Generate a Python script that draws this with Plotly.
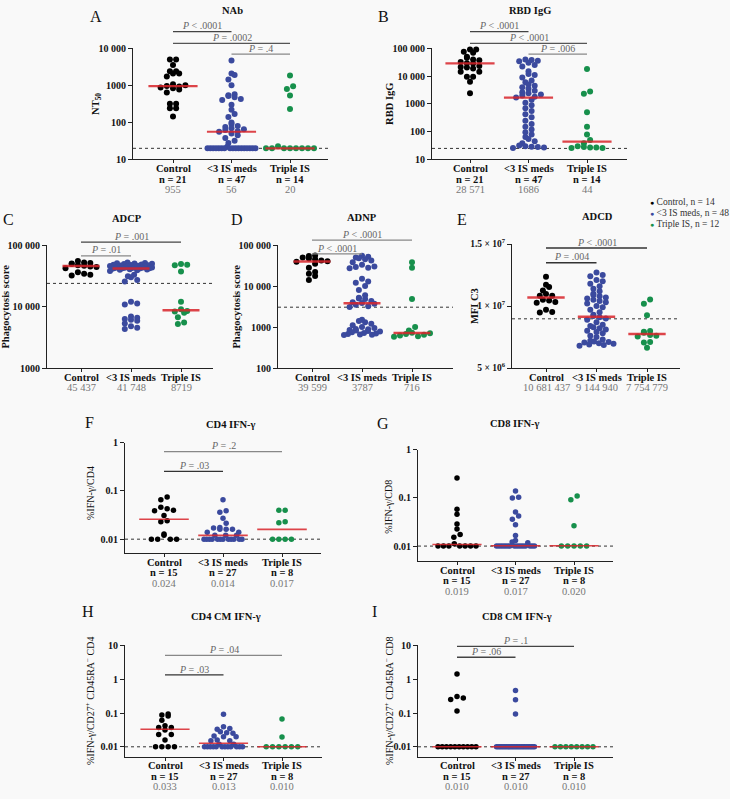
import math
import plotly.graph_objects as go

FIG_W, FIG_H = 730, 799
FONT = "Liberation Serif"
COLORS = ["#000000", "#3b4a9e", "#17904c"]
RED = "#d9252b"

categories = ["Control", "&lt;3 IS meds", "Triple IS"]

# ---------------- data ----------------
# A  NAb (NT50)
nab_control = [5000, 5000, 3540, 2400, 2400, 2100, 2100, 1730, 1080, 1000, 955, 930, 880, 830, 770,
               640, 320, 320, 240, 240, 145]
nab_lt3 = [4700, 2100, 1900, 1450, 1000, 580, 540, 520, 480, 430, 400, 300, 220, 170, 140, 100, 90, 80,
           75, 70, 65, 62, 58, 56, 50, 45, 38, 32, 28, 22] + [20] * 17
nab_triple = [1840, 940, 800, 530, 230, 22.6] + [20] * 8
nab_median = [955, 56, 20]
nab_median_text = ["955", "56", "20"]
nab_n = [21, 47, 14]

# B  RBD IgG
rbd_control = [91000, 91000, 75000, 69000, 50000, 46000, 40000, 37000, 32000, 28900, 28571, 23000, 21400,
               20300, 18700, 14300, 14300, 9500, 9500, 6300, 2430]
rbd_lt3 = [40000, 38000, 36000, 34000, 30000, 25000, 22000, 15000, 12000, 11000, 9000, 7000, 6000, 5000,
           4500, 4000, 3500, 3000, 2600, 2400, 2200, 2000, 1800, 1686, 1400, 1100, 900, 700, 550, 420, 330,
           250, 190, 150, 120, 95, 80, 65, 55, 45, 38, 32, 30, 29, 28, 27, 26]
rbd_triple = [18000, 2800, 2300, 500, 150, 80, 50, 38, 30, 28, 27, 27, 26, 26]
rbd_median = [28571, 1686, 44]
rbd_median_text = ["28 571", "1686", "44"]
rbd_n = [21, 47, 14]

# C  ADCP
adcp_control = [55000, 52000, 51000, 50000, 49000, 47000, 46000, 44900, 44000, 42000, 36000, 34000, 33000, 32000]
adcp_lt3 = [52000, 51000, 50500, 50000, 49500, 49000, 48500, 48000, 47500, 47000, 46500, 46000, 45500, 45000,
            44500, 44000, 43500, 43000, 42800, 42600, 42400, 42200, 42000, 41800, 41700, 41000, 40500, 40000,
            39500, 39000, 38000, 33000, 31000, 30000, 27000, 25500, 12000, 11200, 10800, 6900, 6600, 6300,
            6100, 5900, 5300, 4800, 4500, 4300]
adcp_triple = [49000, 48000, 47000, 37000, 12000, 9000, 8438, 8300, 7900, 6700, 5500, 5200]
adcp_median = [45437, 41748, 8719]
adcp_median_text = ["45 437", "41 748", "8719"]

# D  ADNP
adnp_control = [56000, 54000, 50000, 47000, 45000, 42000, 40000, 39198, 35000, 28000, 22000, 20000, 17500, 14000]
adnp_lt3 = [55000, 52000, 50000, 48000, 45000, 42000, 38000, 33000, 30000, 29000, 28000, 27000, 15000, 13000,
            12000, 10000, 8000, 6000, 5200, 5000, 4800, 4300, 4000, 3850, 3724, 3500, 3200, 3100, 1500, 1400,
            1300, 1200, 1100, 1000, 950, 900, 880, 850, 820, 800, 780, 750, 720, 700, 680, 660, 650, 640]
adnp_triple = [38000, 28000, 4800, 1000, 820, 730, 702, 680, 650, 620, 600, 580]
adnp_median = [39599, 3787, 716]
adnp_median_text = ["39 599", "3787", "716"]

# E  ADCD (MFI C3)
adcd_control = [12.37e6, 11.71e6, 11.53e6, 11.26e6, 10.97e6, 10.84e6, 10.84e6, 10.5e6, 10.45e6, 10.32e6,
                10.26e6, 9.71e6, 9.53e6, 9.47e6]
adcd_lt3 = [12.7e6, 12.5e6, 12.4e6, 12.1e6, 12.0e6, 11.8e6, 11.6e6, 11.4e6, 11.2e6, 11.0e6, 10.9e6, 10.8e6,
            10.7e6, 10.6e6, 10.5e6, 10.4e6, 10.3e6, 10.2e6, 10.0e6, 9.9e6, 9.7e6, 9.5e6, 9.3e6, 9.2e6,
            9.09e6, 9.0e6, 8.9e6, 8.7e6, 8.5e6, 8.4e6, 8.3e6, 8.2e6, 8.1e6, 8.0e6, 7.9e6, 7.8e6, 7.6e6,
            7.5e6, 7.3e6, 7.2e6, 7.15e6, 7.1e6, 7.05e6, 7.0e6, 6.95e6, 6.9e6, 6.85e6, 6.8e6]
adcd_triple = [10.53e6, 10.18e6, 9.26e6, 7.98e6, 7.92e6, 7.85e6, 7.66e6, 7.6e6, 7.55e6, 7.1e6, 7.05e6, 6.63e6]
adcd_median = [10681437, 9144940, 7754779]
adcd_median_text = ["10 681 437", "9 144 940", "7 754 779"]

# F  CD4 IFN-g
cd4_control = [0.075, 0.066, 0.046, 0.043, 0.040, 0.039, 0.031, 0.024, 0.023, 0.0128, 0.012, 0.01, 0.01, 0.01, 0.01]
cd4_lt3 = [0.0655, 0.039, 0.036, 0.0273, 0.0215, 0.0175, 0.017, 0.016, 0.016, 0.016, 0.014, 0.014, 0.012,
           0.012, 0.012] + [0.01] * 12
cd4_triple = [0.040, 0.040, 0.023, 0.022, 0.01, 0.01, 0.01, 0.01]
cd4_median = [0.026, 0.012, 0.016]
cd4_median_text = ["0.024", "0.014", "0.017"]
cd4_n = [15, 27, 8]

# G  CD8 IFN-g
cd8_control = [0.26, 0.058, 0.0457, 0.0286, 0.0226, 0.0173, 0.0153, 0.0112] + [0.01] * 7
cd8_lt3 = [0.139, 0.103, 0.1, 0.051, 0.042, 0.036, 0.0277, 0.0165, 0.0131, 0.0122, 0.0118] + [0.01] * 16
cd8_triple = [0.11, 0.092, 0.0264] + [0.01] * 5
cd8_median = [0.0108, 0.0102, 0.0102]
cd8_median_text = ["0.019", "0.017", "0.020"]
cd8_n = [15, 27, 8]

# H  CD4 CM IFN-g
cm4_control = [0.094, 0.088, 0.082, 0.0614, 0.042, 0.0375, 0.0375, 0.0313, 0.023, 0.023, 0.016] + [0.01] * 4
cm4_lt3 = [0.092, 0.039, 0.035, 0.033, 0.028, 0.026, 0.025, 0.021, 0.020, 0.020, 0.016, 0.015, 0.015,
           0.012, 0.012] + [0.01] * 12
cm4_triple = [0.066, 0.0196] + [0.01] * 6
cm4_median = [0.033, 0.0128, 0.01]
cm4_median_text = ["0.033", "0.013", "0.010"]
cm4_n = [15, 27, 8]

# I  CD8 CM IFN-g
cm8_control = [1.42, 0.31, 0.28, 0.25, 0.115] + [0.01] * 10
cm8_lt3 = [0.46, 0.247, 0.094] + [0.01] * 24
cm8_triple = [0.01] * 8
cm8_median = [0.01, 0.01, 0.01]
cm8_median_text = ["0.010", "0.010", "0.010"]
cm8_n = [15, 27, 8]

legend_labels = ["Control, n = 14", "&lt;3 IS meds, n = 48", "Triple IS, n = 12"]

# ---------------- panel layout (pixels) ----------------
panels = [
    dict(letter="A", letter_xy=(96, 10), title="NAb", title_xy=(232, 4), ytitle="<b>NT<sub>50</sub></b>",
         ytitle_x=97, data=[nab_control, nab_lt3, nab_triple], med=nab_median, medtxt=nab_median_text,
         n=nab_n, ylog=True, yrange=[1, 4], tickvals=[10, 100, 1000, 10000],
         ticktext=["10", "100", "1000", "10 000"], thr=20,
         box=(133, 328, 42, 155), c0=173, sp=58.5, H=24, ms=6, d=6.2, hw=0.42, lw=2.2,
         brackets=[(0, 1, "<i>P</i> &lt; .0001", 25, "#444"), (0, 2, "<i>P</i> = .0002", 37, "#555"),
                   (1, 2, "<i>P</i> = .4", 48, "#888")]),
    dict(letter="B", letter_xy=(384, 10), title="RBD IgG", title_xy=(530, 4), ytitle="<b>RBD IgG</b>",
         ytitle_x=390, data=[rbd_control, rbd_lt3, rbd_triple], med=rbd_median, medtxt=rbd_median_text,
         n=rbd_n, ylog=True, yrange=[1, 5], tickvals=[10, 100, 1000, 10000, 100000],
         ticktext=["10", "100", "1000", "10 000", "100 000"], thr=25,
         box=(432, 627, 42, 155), c0=470, sp=58.5, H=24, ms=6, d=6.2, hw=0.42, lw=2.2,
         brackets=[(0, 1, "<i>P</i> &lt; .0001", 25, "#444"), (0, 2, "<i>P</i> &lt; .0001", 37, "#555"),
                   (1, 2, "<i>P</i> = .006", 48, "#888")]),
    dict(letter="C", letter_xy=(8, 216), title="ADCP", title_xy=(127, 215), ytitle="<b>Phagocytosis score</b>",
         ytitle_x=6, data=[adcp_control, adcp_lt3, adcp_triple], med=adcp_median, medtxt=adcp_median_text,
         n=None, ylog=True, yrange=[3, 5], tickvals=[1000, 10000, 100000],
         ticktext=["1000", "10 000", "100 000"], thr=23800,
         box=(47, 213, 242, 367), c0=81, sp=50, H=21, ms=6, d=6.2, hw=0.37, lw=2.5,
         brackets=[(0, 2, "<i>P</i> = .001", 239, "#444"), (0, 1, "<i>P</i> = .01", 253, "#888")]),
    dict(letter="D", letter_xy=(237, 216), title="ADNP", title_xy=(362, 214), ytitle="<b>Phagocytosis score</b>",
         ytitle_x=237, data=[adnp_control, adnp_lt3, adnp_triple], med=adnp_median, medtxt=adnp_median_text,
         n=None, ylog=True, yrange=[2, 5], tickvals=[100, 1000, 10000, 100000],
         ticktext=["100", "1000", "10 000", "100 000"], thr=3050,
         box=(278, 453, 242, 367), c0=312, sp=50, H=18, ms=6, d=6.2, hw=0.37, lw=2.5,
         brackets=[(0, 2, "<i>P</i> &lt; .0001", 237, "#888"), (0, 1, "<i>P</i> &lt; .0001", 251, "#888")]),
    dict(letter="E", letter_xy=(462, 216), title="ADCD", title_xy=(597, 213), ytitle="<b>MFI C3</b>",
         ytitle_x=474, data=[adcd_control, adcd_lt3, adcd_triple], med=adcd_median, medtxt=adcd_median_text,
         n=None, ylog=False, yrange=[5e6, 1.5e7], tickvals=[5e6, 1e7, 1.5e7],
         ticktext=["5 × 10<sup>6</sup>", "1 × 10<sup>7</sup>", "1.5 × 10<sup>7</sup>"], thr=8.97e6,
         box=(512, 680, 241, 367), c0=546, sp=50.5, H=17, ms=6, d=6.2, hw=0.37, tick_size=9.5, lw=2.5,
         brackets=[(0, 2, "<i>P</i> &lt; .0001", 245, "#333"), (0, 1, "<i>P</i> = .004", 260, "#333")]),
    dict(letter="F", letter_xy=(89, 422), title="CD4 IFN-γ", title_xy=(231, 424), ytitle="%IFN-γ/CD4",
         ytitle_x=91, ytitle_y=494, data=[cd4_control, cd4_lt3, cd4_triple], med=cd4_median,
         medtxt=cd4_median_text, n=cd4_n, ylog=True, yrange=[-2.286, 0], tickvals=[0.01, 0.1, 1],
         ticktext=["0.01", "0.1", "1"], thr=0.01,
         box=(125, 321, 443, 555), c0=164, sp=59, H=19, ms=5.5, d=6.3, hw=0.42, lw=1.6,
         brackets=[(0, 2, "<i>P</i> = .2", 452, "#888"), (0, 1, "<i>P</i> = .03", 472, "#333")]),
    dict(letter="G", letter_xy=(383, 423), title="CD8 IFN-γ", title_xy=(515, 423), ytitle="%IFN-γ/CD8",
         ytitle_x=389, ytitle_y=508, data=[cd8_control, cd8_lt3, cd8_triple], med=cd8_median,
         medtxt=cd8_median_text, n=cd8_n, ylog=True, yrange=[-2.306, 0], tickvals=[0.01, 0.1, 1],
         ticktext=["0.01", "0.1", "1"], thr=0.01,
         box=(418, 613, 450, 563), c0=457, sp=58.5, H=19, ms=5.5, d=6.3, hw=0.42, lw=1.6,
         brackets=[]),
    dict(letter="H", letter_xy=(88, 614), title="CD4 CM IFN-γ", title_xy=(226, 620),
         ytitle="%IFN-γ/CD27<sup>+</sup> CD45RA<sup>−</sup> CD4",
         ytitle_x=90, data=[cm4_control, cm4_lt3, cm4_triple], med=cm4_median, medtxt=cm4_median_text,
         n=cm4_n, ylog=True, yrange=[-2.29, 1], tickvals=[0.01, 0.1, 1, 10],
         ticktext=["0.01", "0.1", "1", "10"], thr=0.01,
         box=(125, 322, 649, 762), c0=165, sp=58.5, H=19, ms=5.5, d=6.3, hw=0.42, lw=1.6,
         brackets=[(0, 2, "<i>P</i> = .04", 659, "#888"), (0, 1, "<i>P</i> = .03", 679, "#333")]),
    dict(letter="I", letter_xy=(374, 614), title="CD8 CM IFN-γ", title_xy=(517, 620),
         ytitle="%IFN-γ/CD27<sup>+</sup> CD45RA<sup>−</sup> CD8",
         ytitle_x=389, data=[cm8_control, cm8_lt3, cm8_triple], med=cm8_median, medtxt=cm8_median_text,
         n=cm8_n, ylog=True, yrange=[-2.29, 1], tickvals=[0.01, 0.1, 1, 10],
         ticktext=["0.01", "0.1", "1", "10"], thr=0.01,
         box=(418, 613, 649, 762), c0=457, sp=58.5, H=19, ms=5.5, d=6.3, hw=0.42, lw=1.6,
         brackets=[(0, 2, "<i>P</i> = .1", 650, "#444"), (0, 1, "<i>P</i> = .06", 661, "#444")]),
]


def fx(p):
    return p / FIG_W


def fy(p):
    return 1 - p / FIG_H


def swarm_offsets(vals, ylog, yrange, top, bottom, sp, d, H, binh=4.6):
    span = bottom - top

    def to_px(v):
        t = math.log10(v) if ylog else v
        return bottom - (t - yrange[0]) / (yrange[1] - yrange[0]) * span

    ys = [to_px(v) for v in vals]
    order = sorted(range(len(vals)), key=lambda i: -ys[i])
    bins, cur, start = [], [], None
    for i in order:
        if cur and start - ys[i] > binh:
            bins.append(cur)
            cur = []
        if not cur:
            start = ys[i]
        cur.append(i)
    if cur:
        bins.append(cur)
    off = [0.0] * len(vals)
    for b in bins:
        k = len(b)
        if k == 1:
            continue
        s = min(d, 2 * H / (k - 1))
        step = max(1, round(k * 0.618))
        while math.gcd(step, k) != 1:
            step += 1
        for j, i in enumerate(b):
            pos = (j * step) % k
            off[i] = (pos - (k - 1) / 2) * s / sp
    return off


fig = go.Figure()
annotations = []
shapes = []
layout_axes = {}

for k, P in enumerate(panels, start=1):
    xa = "x" if k == 1 else f"x{k}"
    ya = "y" if k == 1 else f"y{k}"
    left, right, top, bottom = P["box"]
    xr = [(left - P["c0"]) / P["sp"], (right - P["c0"]) / P["sp"]]
    suffix = "" if k == 1 else str(k)
    layout_axes["xaxis" + suffix] = dict(
        domain=[fx(left), fx(right)], range=xr, anchor=ya, tickvals=[0, 1, 2], showticklabels=False,
        ticks="outside", ticklen=3, tickcolor="#222", showline=True, linecolor="#222", linewidth=1,
        showgrid=False, zeroline=False, fixedrange=True)
    layout_axes["yaxis" + suffix] = dict(
        domain=[fy(bottom), fy(top)], type="log" if P["ylog"] else "linear", range=P["yrange"], anchor=xa,
        tickvals=P["tickvals"], ticktext=P["ticktext"], ticks="outside", ticklen=4, tickcolor="#222",
        showline=True, linecolor="#222", linewidth=1, showgrid=False, zeroline=False, fixedrange=True,
        tickfont=dict(family=FONT, size=P.get("tick_size", 10), color="#111", weight="bold"))

    # threshold dotted line
    fig.add_trace(go.Scatter(x=xr, y=[P["thr"], P["thr"]], mode="lines", xaxis=xa, yaxis=ya,
                             line=dict(color="#333", width=1, dash="dot"), showlegend=False,
                             hoverinfo="skip", cliponaxis=False))
    # points
    for g, vals in enumerate(P["data"]):
        offs = swarm_offsets(vals, P["ylog"], P["yrange"], top, bottom, P["sp"], P["d"], P["H"])
        fig.add_trace(go.Scatter(x=[g + o for o in offs], y=vals, mode="markers", xaxis=xa, yaxis=ya,
                                 marker=dict(color=COLORS[g], size=P["ms"], line=dict(width=0)),
                                 showlegend=False, cliponaxis=False))
    # median lines
    for g, m in enumerate(P["med"]):
        fig.add_trace(go.Scatter(x=[g - P["hw"], g + P["hw"]], y=[m, m], mode="lines", xaxis=xa, yaxis=ya,
                                 line=dict(color=RED, width=P["lw"]), opacity=0.85, showlegend=False,
                                 hoverinfo="skip", cliponaxis=False))

    # category labels
    for g in range(3):
        annotations.append(dict(x=g, xref=xa, y=fy(bottom + 9.5), yref="paper", showarrow=False,
                                text=f"<b>{categories[g]}</b>", font=dict(family=FONT, size=10.5, color="#111"),
                                xanchor="center", yanchor="middle"))
        if P["n"] is not None:
            annotations.append(dict(x=g, xref=xa, y=fy(bottom + 20.3), yref="paper", showarrow=False,
                                    text=f"<b>n = {P['n'][g]}</b>",
                                    font=dict(family=FONT, size=10.5, color="#111"),
                                    xanchor="center", yanchor="middle"))
            my = bottom + 30.8
        else:
            my = bottom + 20
        annotations.append(dict(x=g, xref=xa, y=fy(my), yref="paper", showarrow=False,
                                text=P["medtxt"][g], font=dict(family=FONT, size=10.5, color="#777"),
                                xanchor="center", yanchor="middle"))

    # brackets
    for (i, j, lab, ypx, col) in P["brackets"]:
        shapes.append(dict(type="line", xref=xa, x0=i, x1=j, yref="paper", y0=fy(ypx), y1=fy(ypx),
                           line=dict(color=col, width=1.3)))
        annotations.append(dict(x=(i + j) / 2, xref=xa, y=fy(ypx - 6), yref="paper", showarrow=False,
                                text=lab, font=dict(family=FONT, size=10, color="#666"),
                                xanchor="center", yanchor="middle"))

    # panel letter & title
    annotations.append(dict(x=fx(P["letter_xy"][0]), y=fy(P["letter_xy"][1]), xref="paper", yref="paper",
                            text=P["letter"], showarrow=False, font=dict(family=FONT, size=16, color="#111"),
                            xanchor="center", yanchor="middle"))
    annotations.append(dict(x=fx(P["title_xy"][0]), y=fy(P["title_xy"][1]), xref="paper", yref="paper",
                            text=f"<b>{P['title']}</b>", showarrow=False,
                            font=dict(family=FONT, size=10.5, color="#111"),
                            xanchor="center", yanchor="middle"))
    # y title
    yt_y = P.get("ytitle_y", (top + bottom) / 2)
    annotations.append(dict(x=fx(P["ytitle_x"]), y=fy(yt_y), xref="paper", yref="paper",
                            text=P["ytitle"], showarrow=False, textangle=-90,
                            font=dict(family=FONT, size=10.5 if k <= 5 else 10, color="#111"),
                            xanchor="center", yanchor="middle"))

# legend
for g, lab in enumerate(legend_labels):
    annotations.append(dict(x=fx(648), y=fy(198 + 11.5 * g), xref="paper", yref="paper", showarrow=False,
                            text=f"<span style='color:{COLORS[g]};font-size:7px'>●</span> {lab}",
                            font=dict(family=FONT, size=9.5, color="#333"),
                            xanchor="left", yanchor="middle"))

fig.update_layout(
    width=FIG_W, height=FIG_H, autosize=False,
    margin=dict(l=0, r=0, t=0, b=0),
    paper_bgcolor="#f9f9f9", plot_bgcolor="#f9f9f9",
    showlegend=False,
    annotations=annotations, shapes=shapes,
    font=dict(family=FONT, size=10, color="#111"),
    **layout_axes,
)

fig.write_html("out.html",
               config={"displayModeBar": False},
               post_script="document.body.style.margin='0';document.body.style.padding='0';"
                           "document.body.style.overflow='hidden';")
